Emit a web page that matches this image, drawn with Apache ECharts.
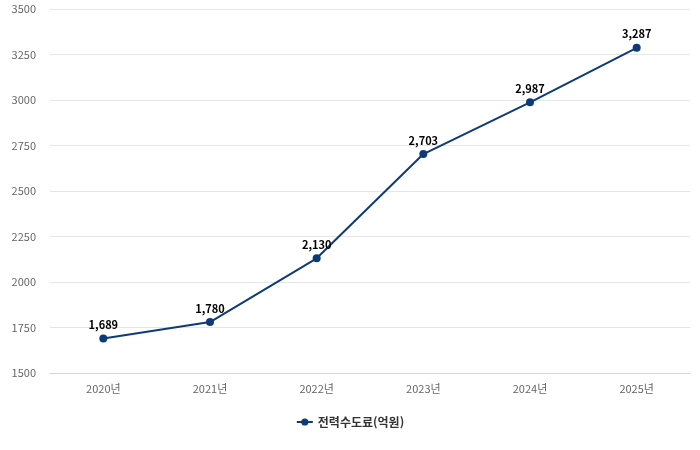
<!DOCTYPE html>
<html lang="ko">
<head>
    <meta charset="utf-8">
    <title>전력수도료</title>
    <style>
        html, body { margin: 0; padding: 0; background: #fff; }
    </style>
</head>
<body>
    <div id="main" style="width: 700px;height:450px;"></div>
    <script src="https://cdn.jsdelivr.net/npm/echarts@6/dist/echarts.min.js"></script>
    <script>
        var categories = ['2020년', '2021년', '2022년', '2023년', '2024년', '2025년'];
        var values = [1689, 1780, 2130, 2703, 2987, 3287];
        var seriesName = '전력수도료(억원)';

        var myChart = echarts.init(document.getElementById('main'));
        var font = '"Noto Sans CJK KR", "Noto Sans", sans-serif';

        var option = {
            animation: false,
            textStyle: { fontFamily: font },
            grid: {
                left: 50,
                right: 10,
                top: 9,
                bottom: 77
            },
            legend: {
                bottom: 17,
                left: 'center',
                itemWidth: 16,
                itemHeight: 9,
                itemGap: 10,
                textStyle: {
                    fontFamily: font,
                    fontSize: 12,
                    fontWeight: 'bold',
                    color: '#333'
                },
                data: [seriesName]
            },
            xAxis: {
                type: 'category',
                data: categories,
                boundaryGap: true,
                axisTick: { show: false },
                axisLine: { lineStyle: { color: '#ccd6eb' } },
                axisLabel: {
                    color: '#666',
                    fontSize: 11,
                    margin: 10,
                    fontFamily: font
                }
            },
            yAxis: {
                type: 'value',
                min: 1500,
                max: 3500,
                interval: 250,
                axisLine: { show: false },
                axisTick: { show: false },
                splitLine: { lineStyle: { color: '#e6e6e6' } },
                axisLabel: {
                    color: '#666',
                    fontSize: 11,
                    margin: 14,
                    fontFamily: font,
                    formatter: function (v) { return String(v); }
                }
            },
            series: [{
                name: seriesName,
                type: 'line',
                data: values,
                symbol: 'circle',
                symbolSize: 8,
                color: '#0d3b78',
                lineStyle: { width: 2, color: '#0d3b78' },
                itemStyle: { color: '#0d3b78' },
                label: {
                    show: true,
                    position: 'top',
                    distance: 4,
                    color: '#000',
                    fontWeight: 'bold',
                    fontSize: 11,
                    fontFamily: font,
                    formatter: function (p) {
                        return p.value.toLocaleString('en-US');
                    }
                }
            }]
        };

        myChart.setOption(option);
    </script>
</body>
</html>
